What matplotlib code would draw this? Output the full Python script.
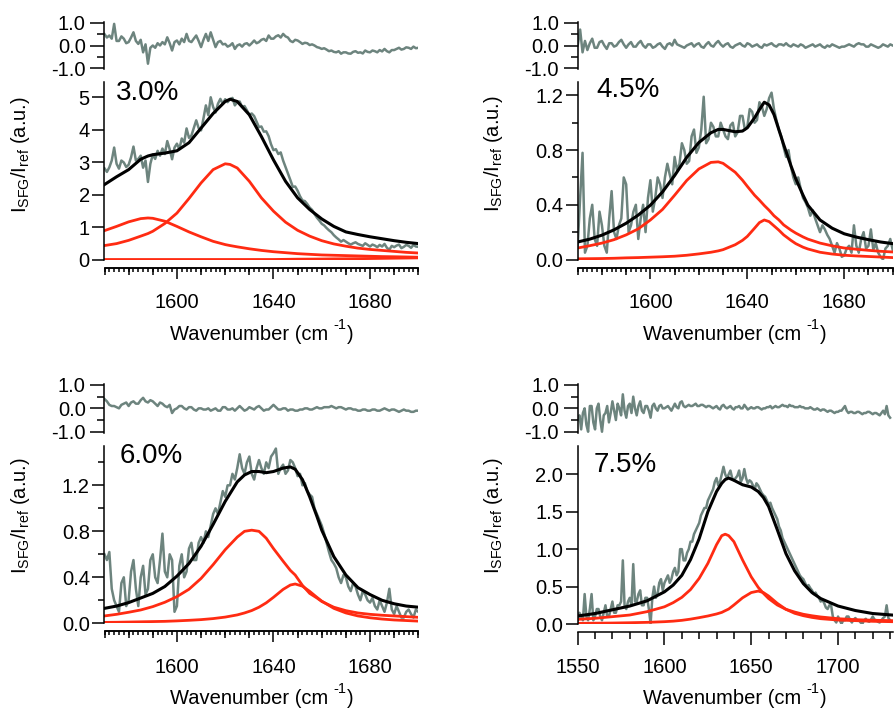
import numpy as np
import matplotlib
matplotlib.use("Agg")
import matplotlib.pyplot as plt
from matplotlib.ticker import MultipleLocator, NullLocator, FormatStrFormatter, FixedLocator

plt.rcParams['font.family'] = ['Liberation Sans', 'DejaVu Sans']
plt.rcParams['mathtext.fontset'] = 'custom'
plt.rcParams['mathtext.rm'] = 'Liberation Sans'
plt.rcParams['mathtext.it'] = 'Liberation Sans:italic'
plt.rcParams['axes.unicode_minus'] = False
plt.rcParams['axes.linewidth'] = 1.1

GRAY = '#6d847e'
RED = '#ff2b12'
BLACK = '#000000'

# ---------------- 3.0 % ----------------
p30_label = '3.0%'
p30_grid = np.arange(1570, 1701, 1)
p30_data = [2.81, 2.70, 2.84, 3.05, 3.45, 2.95, 2.80, 3.05, 2.99, 2.85,
            2.92, 3.15, 3.48, 3.05, 3.10, 3.20, 2.83, 3.05, 2.39, 2.95,
            3.23, 3.10, 3.35, 3.20, 3.42, 3.25, 3.65, 3.40, 3.09, 3.45,
            3.57, 3.40, 3.73, 3.60, 4.04, 3.75, 3.82, 4.05, 4.29, 4.05,
            3.98, 4.35, 4.75, 4.45, 5.00, 4.70, 4.53, 4.80, 4.95, 4.80,
            4.94, 4.85, 4.94, 4.98, 4.75, 4.85, 4.87, 4.70, 4.73, 4.60,
            4.46, 4.50, 4.42, 4.25, 4.08, 4.10, 3.94, 3.95, 3.80, 3.55,
            3.37, 3.40, 3.25, 3.30, 3.05, 2.85, 2.65, 2.45, 2.24, 2.25,
            2.12, 1.95, 1.82, 1.80, 1.71, 1.60, 1.53, 1.40, 1.29, 1.20,
            1.10, 1.05, 0.97, 0.90, 0.84, 0.75, 0.68, 0.62, 0.55, 0.60,
            0.55, 0.50, 0.46, 0.50, 0.53, 0.48, 0.45, 0.42, 0.50, 0.45,
            0.40, 0.46, 0.43, 0.38, 0.45, 0.40, 0.48, 0.36, 0.30, 0.42,
            0.38, 0.43, 0.46, 0.35, 0.39, 0.45, 0.42, 0.36, 0.45, 0.40,
            0.39]
p30_resid = [0.50, 0.35, 0.44, 0.30, 0.95, 0.20, 0.20, 0.40, 0.30, 0.10,
             0.15, 0.35, 0.58, 0.20, 0.07, 0.25, -0.30, 0.05, -0.80, -0.10,
             0.00, -0.10, 0.10, 0.00, 0.15, 0.05, 0.36, 0.10, -0.22, 0.15,
             0.22, 0.05, 0.30, 0.15, 0.51, 0.20, 0.15, 0.30, 0.44, 0.20,
             -0.07, 0.25, 0.51, 0.20, 0.58, 0.25, -0.07, 0.15, 0.20, 0.05,
             0.07, -0.05, 0.00, 0.10, -0.15, 0.00, 0.05, -0.05, 0.07, 0.10,
             0.00, 0.10, 0.22, 0.10, 0.15, 0.25, 0.29, 0.20, 0.44, 0.30,
             0.30, 0.40, 0.45, 0.35, 0.51, 0.40, 0.35, 0.20, 0.15, 0.25,
             0.22, 0.15, 0.07, 0.12, 0.10, 0.02, 0.05, 0.00, -0.07, -0.10,
             -0.15, -0.12, -0.18, -0.25, -0.22, -0.28, -0.30, -0.25, -0.36, -0.30,
             -0.30, -0.35, -0.36, -0.28, -0.25, -0.32, -0.30, -0.35, -0.22, -0.28,
             -0.30, -0.22, -0.25, -0.30, -0.20, -0.26, -0.15, -0.25, -0.30, -0.20,
             -0.20, -0.15, -0.10, -0.18, -0.15, -0.08, -0.10, -0.15, -0.05, -0.12,
             -0.10]
p30_fit_x = [1570, 1575, 1580, 1585, 1588, 1590, 1595, 1600, 1605, 1610, 1615, 1620, 1622,
             1625, 1630, 1635, 1640, 1645, 1650, 1655, 1660, 1665, 1670, 1675, 1680, 1685,
             1690, 1695, 1700]
p30_fit = [2.31, 2.55, 2.77, 3.09, 3.19, 3.23, 3.28, 3.35, 3.60, 4.05, 4.50, 4.87, 4.94,
           4.87, 4.46, 3.79, 3.07, 2.41, 1.90, 1.54, 1.25, 1.02, 0.85, 0.77, 0.70, 0.64,
           0.58, 0.53, 0.49]
p30_peak1 = [0.89, 1.02, 1.16, 1.26, 1.28, 1.27, 1.18, 1.02, 0.85, 0.70, 0.56, 0.46, 0.43,
             0.39, 0.33, 0.28, 0.24, 0.21, 0.18, 0.16, 0.14, 0.13, 0.12, 0.11, 0.10, 0.09,
             0.085, 0.078, 0.07]
p30_peak2 = [0.43, 0.49, 0.59, 0.72, 0.80, 0.87, 1.11, 1.43, 1.88, 2.36, 2.77, 2.95, 2.93,
             2.82, 2.41, 1.90, 1.49, 1.15, 0.90, 0.72, 0.58, 0.48, 0.41, 0.35, 0.31, 0.28,
             0.25, 0.22, 0.20]
p30_peak3 = [0.0, 0.0, 0.0, 0.0, 0.0, 0.0, 0.0, 0.0, 0.0, 0.0, 0.0, 0.0, 0.0,
             0.0, 0.0, 0.0, 0.0, 0.005, 0.01, 0.012, 0.015, 0.02, 0.022, 0.025, 0.03, 0.035,
             0.04, 0.045, 0.05]

# ---------------- 4.5 % ----------------
p45_label = '4.5%'
p45_grid = np.arange(1570, 1701, 1)
p45_data = [0.10, 0.45, 0.78, 0.05, 0.10, 0.30, 0.40, 0.15, 0.10, 0.35,
            0.25, 0.10, 0.05, 0.30, 0.50, 0.20, 0.15, 0.25, 0.30, 0.60,
            0.55, 0.20, 0.25, 0.35, 0.40, 0.15, 0.30, 0.40, 0.20, 0.45,
            0.58, 0.35, 0.45, 0.60, 0.55, 0.45, 0.60, 0.70, 0.62, 0.55,
            0.75, 0.65, 0.70, 0.85, 0.80, 0.70, 0.72, 0.90, 0.95, 0.78,
            0.82, 0.95, 1.19, 0.85, 0.88, 1.00, 0.97, 0.90, 0.90, 1.00,
            0.95, 0.90, 0.88, 0.98, 1.00, 0.90, 0.93, 1.05, 1.05, 0.95,
            0.97, 1.10, 1.08, 1.00, 1.02, 1.15, 1.12, 1.05, 1.10, 1.18,
            1.22, 1.10, 1.02, 0.95, 0.90, 0.82, 0.75, 0.80, 0.68, 0.60,
            0.55, 0.60, 0.52, 0.45, 0.42, 0.38, 0.32, 0.36, 0.30, 0.25,
            0.20, 0.25, 0.22, 0.18, 0.15, 0.10, 0.05, 0.12, 0.08, 0.02,
            0.03, 0.08, 0.10, 0.05, 0.25, 0.10, 0.05, 0.15, 0.20, 0.08,
            0.10, 0.22, 0.07, 0.12, 0.05, 0.02, 0.00, 0.08, 0.10, 0.15,
            0.07]
p45_resid = [0.00, 0.70, -0.30, 0.20, -0.20, 0.10, 0.30, -0.10, -0.10, 0.15,
             0.20, 0.00, -0.15, 0.10, 0.10, -0.05, 0.00, 0.15, 0.25, 0.05,
             -0.10, 0.05, 0.15, -0.05, -0.05, 0.10, 0.20, 0.00, -0.10, 0.05,
             0.05, -0.10, -0.05, 0.05, 0.10, -0.05, -0.15, 0.05, 0.10, 0.00,
             0.25, 0.05, 0.00, -0.05, -0.10, 0.00, 0.05, 0.10, -0.05, 0.05,
             0.10, -0.05, -0.10, 0.05, 0.15, 0.00, -0.05, 0.10, 0.20, 0.05,
             -0.05, 0.05, 0.10, -0.05, -0.10, 0.00, 0.05, 0.10, 0.00, -0.05,
             0.10, 0.05, -0.05, 0.00, 0.05, -0.05, -0.10, 0.05, 0.00, 0.05,
             0.10, 0.00, -0.05, 0.05, 0.05, 0.00, 0.10, 0.00, -0.05, 0.05,
             0.00, -0.05, 0.05, 0.00, -0.10, -0.05, 0.00, 0.05, -0.05, 0.00,
             0.05, -0.05, -0.10, 0.00, -0.05, 0.05, 0.00, -0.05, -0.10, -0.05,
             -0.05, 0.00, 0.05, 0.00, -0.05, 0.05, 0.10, 0.05, 0.05, -0.05,
             -0.05, 0.05, 0.00, -0.05, -0.10, -0.05, 0.05, 0.00, -0.05, 0.05,
             0.00]
p45_fit_x = [1570, 1575, 1580, 1585, 1590, 1595, 1600, 1605, 1610, 1615, 1620, 1625, 1628,
             1630, 1635, 1638, 1640, 1643, 1645, 1647, 1649, 1651, 1653, 1655, 1658, 1660,
             1663, 1665, 1670, 1675, 1680, 1685, 1690, 1695, 1700]
p45_fit = [0.128, 0.149, 0.178, 0.217, 0.265, 0.325, 0.397, 0.494, 0.614, 0.747, 0.855,
           0.927, 0.951, 0.951, 0.934, 0.939, 0.963, 1.036, 1.096, 1.15, 1.13, 1.06, 0.95,
           0.84, 0.686, 0.59, 0.47, 0.397, 0.289, 0.229, 0.188, 0.164, 0.145, 0.128, 0.116]
p45_peak1 = [0.084, 0.101, 0.12, 0.145, 0.18, 0.224, 0.289, 0.366, 0.47, 0.578, 0.662,
             0.71, 0.714, 0.703, 0.638, 0.58, 0.535, 0.47, 0.434, 0.395, 0.36, 0.32, 0.29,
             0.253, 0.215, 0.193, 0.165, 0.149, 0.12, 0.10, 0.084, 0.075, 0.067, 0.06, 0.055]
p45_peak2 = [0.005, 0.006, 0.007, 0.009, 0.012, 0.014, 0.017, 0.02, 0.024, 0.031, 0.041,
             0.053, 0.063, 0.072, 0.108, 0.14, 0.169, 0.229, 0.27, 0.289, 0.277, 0.246, 0.215,
             0.18, 0.14, 0.116, 0.09, 0.077, 0.053, 0.04, 0.031, 0.026, 0.022, 0.018, 0.014]

# ---------------- 6.0 % ----------------
p60_label = '6.0%'
p60_grid = np.arange(1570, 1701, 1)
p60_data = [0.60, 0.55, 0.62, 0.30, 0.20, 0.15, 0.10, 0.35, 0.40, 0.15,
            0.20, 0.45, 0.55, 0.30, 0.15, 0.40, 0.50, 0.25, 0.30, 0.55,
            0.60, 0.40, 0.35, 0.55, 0.78, 0.45, 0.40, 0.60, 0.55, 0.10,
            0.15, 0.50, 0.60, 0.40, 0.45, 0.65, 0.70, 0.55, 0.55, 0.70,
            0.75, 0.70, 0.80, 0.75, 0.85, 0.95, 1.00, 0.95, 1.05, 1.15,
            1.10, 1.20, 1.20, 1.30, 1.25, 1.35, 1.47, 1.35, 1.30, 1.40,
            1.45, 1.30, 1.25, 1.35, 1.42, 1.35, 1.30, 1.40, 1.35, 1.45,
            1.48, 1.52, 1.30, 1.35, 1.38, 1.30, 1.33, 1.42, 1.40, 1.35,
            1.28, 1.30, 1.20, 1.22, 1.15, 1.12, 1.10, 1.00, 0.95, 0.90,
            0.85, 0.78, 0.70, 0.62, 0.55, 0.52, 0.48, 0.40, 0.35, 0.42,
            0.40, 0.32, 0.28, 0.35, 0.32, 0.25, 0.20, 0.28, 0.25, 0.20,
            0.18, 0.22, 0.15, 0.12, 0.20, 0.15, 0.10, 0.18, 0.30, 0.12,
            0.08, 0.15, 0.10, 0.05, 0.05, 0.10, 0.12, 0.08, 0.05, 0.12,
            0.10]
p60_resid = [0.40, 0.30, 0.15, 0.10, 0.10, 0.05, 0.00, 0.15, 0.20, 0.25,
             0.10, 0.25, 0.30, 0.20, 0.20, 0.35, 0.45, 0.30, 0.25, 0.35,
             0.30, 0.20, 0.10, 0.25, 0.20, 0.10, 0.05, 0.15, -0.20, -0.05,
             0.00, 0.10, 0.10, 0.00, -0.05, 0.05, 0.05, -0.05, -0.10, 0.00,
             0.00, -0.05, -0.05, 0.00, -0.10, -0.05, 0.00, -0.10, -0.10, 0.05,
             0.05, -0.05, -0.05, 0.00, -0.10, 0.00, 0.10, 0.00, -0.10, -0.05,
             0.05, 0.00, -0.05, 0.05, 0.10, 0.00, -0.10, -0.05, -0.05, 0.05,
             0.15, 0.05, -0.05, -0.05, 0.00, 0.00, -0.10, -0.05, -0.05, -0.10,
             -0.10, -0.05, -0.05, 0.00, 0.00, -0.05, -0.05, 0.00, 0.05, 0.00,
             0.00, 0.05, 0.05, 0.05, 0.10, 0.05, 0.00, 0.05, 0.05, 0.00,
             -0.05, 0.00, 0.00, -0.05, -0.05, -0.10, -0.10, -0.05, -0.05, -0.10,
             -0.10, -0.05, -0.05, -0.10, -0.10, -0.05, 0.00, -0.05, -0.10, -0.05,
             -0.05, -0.10, -0.15, -0.10, -0.05, -0.10, -0.10, -0.15, -0.15, -0.10,
             -0.10]
p60_fit_x = [1570, 1575, 1580, 1585, 1590, 1595, 1600, 1605, 1610, 1615, 1620, 1625, 1628,
             1631, 1634, 1637, 1640, 1644, 1647, 1649, 1652, 1655, 1658, 1660, 1665, 1670,
             1675, 1680, 1685, 1690, 1695, 1700]
p60_fit = [0.13, 0.15, 0.18, 0.22, 0.26, 0.32, 0.41, 0.52, 0.67, 0.86, 1.06, 1.23, 1.29,
           1.32, 1.32, 1.31, 1.32, 1.35, 1.36, 1.34, 1.25, 1.10, 0.93, 0.81, 0.58, 0.42,
           0.31, 0.25, 0.20, 0.17, 0.15, 0.14]
p60_peak1 = [0.064, 0.078, 0.096, 0.116, 0.145, 0.183, 0.232, 0.296, 0.39, 0.51, 0.64, 0.75,
             0.80, 0.81, 0.80, 0.74, 0.65, 0.54, 0.46, 0.42, 0.33, 0.26, 0.22, 0.19, 0.14,
             0.11, 0.09, 0.078, 0.07, 0.064, 0.058, 0.052]
p60_peak2 = [0.008, 0.009, 0.011, 0.013, 0.015, 0.017, 0.021, 0.026, 0.032, 0.041, 0.054,
             0.073, 0.090, 0.111, 0.140, 0.178, 0.226, 0.295, 0.333, 0.342, 0.323, 0.278,
             0.226, 0.193, 0.130, 0.090, 0.064, 0.048, 0.037, 0.029, 0.024, 0.019]

# ---------------- 7.5 % ----------------
p75_label = '7.5%'
p75_grid = np.arange(1550, 1731, 1)
p75_data = [0.05, 0.15, 0.10, 0.05, 0.40, 0.10, 0.05, 0.20, 0.40, 0.05,
            0.10, 0.20, 0.20, 0.10, 0.05, 0.15, 0.25, 0.10, 0.10, 0.20,
            0.30, 0.15, 0.15, 0.25, 0.25, 0.30, 0.85, 0.25, 0.20, 0.30,
            0.35, 0.25, 0.80, 0.30, 0.30, 0.40, 0.45, 0.25, 0.25, 0.35,
            0.35, 0.20, 0.00, 0.35, 0.50, 0.35, 0.40, 0.55, 0.60, 0.45,
            0.55, 0.60, 0.65, 0.55, 0.60, 0.70, 0.75, 0.65, 0.70, 1.00,
            1.00, 0.85, 0.85, 0.95, 1.00, 1.10, 1.10, 1.20, 1.25, 1.30,
            1.35, 1.45, 1.50, 1.55, 1.55, 1.65, 1.70, 1.75, 1.80, 1.90,
            1.95, 1.85, 1.90, 2.00, 2.10, 2.00, 1.95, 2.00, 2.05, 1.95,
            1.92, 1.95, 1.98, 2.05, 1.90, 1.95, 2.07, 1.95, 1.88, 1.92,
            1.90, 1.85, 1.80, 1.88, 1.85, 1.80, 1.75, 1.72, 1.70, 1.65,
            1.60, 1.62, 1.55, 1.50, 1.45, 1.40, 1.30, 1.25, 1.15, 1.10,
            1.05, 1.00, 0.95, 0.90, 0.85, 0.80, 0.75, 0.70, 0.65, 0.62,
            0.60, 0.55, 0.50, 0.52, 0.48, 0.45, 0.40, 0.42, 0.38, 0.35,
            0.30, 0.32, 0.28, 0.22, 0.20, 0.25, 0.25, 0.10, 0.05, 0.02,
            0.10, 0.05, 0.00, 0.05, 0.05, 0.10, 0.10, 0.05, 0.02, 0.06,
            0.08, 0.05, 0.05, 0.02, 0.00, 0.05, 0.07, 0.04, 0.03, 0.06,
            0.10, 0.06, 0.05, 0.03, 0.02, 0.05, 0.08, 0.10, 0.25, 0.08,
            0.05]
p75_resid = [-0.50, -0.30, -0.90, -0.20, 0.00, -0.70, -1.00, 0.10, 0.10, -0.60,
             -0.90, 0.00, 0.20, -0.50, -1.00, -0.30, -0.20, 0.10, -0.60, -0.20,
             0.30, -0.10, -0.50, 0.20, 0.00, -0.30, 0.60, -0.10, -0.40, 0.10,
             0.20, -0.20, 0.50, 0.00, -0.30, 0.10, 0.30, -0.10, -0.20, 0.10,
             0.10, -0.10, -0.40, 0.10, 0.20, 0.00, -0.10, 0.10, 0.15, 0.00,
             0.00, 0.05, 0.10, 0.00, -0.10, 0.05, 0.20, 0.05, 0.00, 0.25,
             0.30, 0.10, 0.05, 0.10, 0.15, 0.10, 0.10, 0.15, 0.20, 0.10,
             0.10, 0.15, 0.15, 0.10, 0.05, 0.10, 0.10, 0.05, 0.00, 0.05,
             0.10, 0.00, -0.05, 0.10, 0.15, 0.05, 0.00, 0.05, 0.10, 0.00,
             -0.05, 0.05, 0.05, 0.10, 0.00, 0.00, 0.15, 0.05, -0.05, 0.00,
             0.05, 0.00, 0.00, 0.05, 0.05, 0.00, -0.05, 0.00, 0.00, 0.05,
             0.05, 0.10, 0.00, 0.05, 0.10, 0.05, 0.05, 0.10, 0.15, 0.10,
             0.10, 0.05, 0.15, 0.10, 0.10, 0.05, 0.05, 0.05, 0.10, 0.05,
             0.05, 0.00, 0.00, 0.00, 0.05, 0.00, -0.05, -0.05, 0.00, -0.05,
             -0.10, -0.05, -0.05, -0.10, -0.15, -0.10, -0.10, -0.15, -0.20, -0.15,
             -0.15, -0.10, -0.10, 0.00, 0.10, -0.10, -0.20, -0.15, -0.15, -0.20,
             -0.20, -0.15, -0.15, -0.20, -0.25, -0.20, -0.20, -0.15, -0.15, -0.20,
             -0.25, -0.20, -0.20, -0.25, -0.30, -0.20, -0.10, -0.25, 0.10, -0.30,
             -0.40]
p75_fit_x = [1550, 1560, 1570, 1580, 1590, 1600, 1605, 1610, 1615, 1620, 1625, 1630, 1633,
             1635, 1637, 1640, 1645, 1650, 1654, 1657, 1660, 1665, 1670, 1675, 1680, 1685,
             1690, 1700, 1710, 1720, 1731]
p75_fit = [0.107, 0.14, 0.19, 0.24, 0.31, 0.43, 0.52, 0.65, 0.86, 1.14, 1.50, 1.77, 1.88,
           1.93, 1.95, 1.92, 1.86, 1.83, 1.77, 1.69, 1.57, 1.26, 0.94, 0.71, 0.54, 0.42,
           0.34, 0.24, 0.18, 0.14, 0.12]
p75_peak1 = [0.062, 0.076, 0.098, 0.12, 0.165, 0.23, 0.285, 0.356, 0.46, 0.61, 0.81, 1.06,
             1.18, 1.20, 1.18, 1.10, 0.855, 0.63, 0.49, 0.41, 0.34, 0.254, 0.196, 0.16, 0.13,
             0.11, 0.094, 0.071, 0.058, 0.05, 0.045]
p75_peak2 = [0.009, 0.011, 0.013, 0.017, 0.022, 0.031, 0.038, 0.049, 0.065, 0.085, 0.107,
             0.134, 0.155, 0.178, 0.20, 0.254, 0.35, 0.42, 0.44, 0.42, 0.374, 0.276, 0.196,
             0.143, 0.111, 0.088, 0.071, 0.053, 0.045, 0.036, 0.031]

W, H = 895, 709
fig = plt.figure(figsize=(W / 100, H / 100), dpi=100)
renderer = fig.canvas.get_renderer()

TICK_FS = 14.5
LABEL_FS = 14.5


def rect(l, r, top, bottom):
    return [l / W, 1 - bottom / H, (r - l) / W, (bottom - top) / H]


def ftext(x, y, s, **kw):
    return fig.text(x / W, 1 - y / H, s, **kw)


def xlabel(cx, base):
    t1 = ftext(0, base, 'Wavenumber (cm', fontsize=LABEL_FS, ha='left', va='baseline')
    t2 = ftext(0, base - 11, '-1', fontsize=10.5, ha='left', va='baseline')
    t3 = ftext(0, base, ')', fontsize=LABEL_FS, ha='left', va='baseline')
    w1 = t1.get_window_extent(renderer).width
    w2 = t2.get_window_extent(renderer).width
    w3 = t3.get_window_extent(renderer).width
    gap1, gap2 = 5, 1
    x0 = cx - (w1 + gap1 + w2 + gap2 + w3) / 2
    t1.set_x(x0 / W)
    t2.set_x((x0 + w1 + gap1) / W)
    t3.set_x((x0 + w1 + gap1 + w2 + gap2) / W)


panels = [
    dict(label=p30_label, grid=p30_grid, data=p30_data, resid=p30_resid, fx=p30_fit_x,
         fit=p30_fit, peaks=[p30_peak1, p30_peak2, p30_peak3],
         lr=(104.5, 418.3), main_tb=(81.7, 259.5), res_tb=(21.6, 69.4),
         xlim=(1570, 1700), ylim=(0, 5.48), ymaj=1, ymin=None, yfmt='%d',
         xmaj=40, xmed=10, xminor=2, xmaj_len=8.0, xpad=10,
         lab=(116.0, 100.0), ylab=(21, 155), xlab=(261.7, 340)),
    dict(label=p45_label, grid=p45_grid, data=p45_data, resid=p45_resid, fx=p45_fit_x,
         fit=p45_fit, peaks=[p45_peak1, p45_peak2],
         lr=(577.7, 892.7), main_tb=(81.7, 259.5), res_tb=(21.6, 69.4),
         xlim=(1570, 1700), ylim=(0, 1.30), ymaj=0.4, ymin=0.2, yfmt='%.1f',
         xmaj=40, xmed=10, xminor=2, xmaj_len=8.0, xpad=10,
         lab=(596.0, 96.7), ylab=(494, 154), xlab=(735, 340)),
    dict(label=p60_label, grid=p60_grid, data=p60_data, resid=p60_resid, fx=p60_fit_x,
         fit=p60_fit, peaks=[p60_peak1, p60_peak2],
         lr=(104.5, 418.3), main_tb=(446.0, 623.3), res_tb=(383.8, 432.9),
         xlim=(1570, 1700), ylim=(0, 1.542), ymaj=0.4, ymin=0.2, yfmt='%.1f',
         xmaj=40, xmed=10, xminor=2, xmaj_len=8.0, xpad=11,
         lab=(120.0, 463.3), ylab=(21, 515.8), xlab=(261.7, 704)),
    dict(label=p75_label, grid=p75_grid, data=p75_data, resid=p75_resid, fx=p75_fit_x,
         fit=p75_fit, peaks=[p75_peak1, p75_peak2],
         lr=(577.7, 892.7), main_tb=(446.0, 624.0), res_tb=(383.8, 432.9),
         xlim=(1550, 1731.5), ylim=(0, 2.378), ymaj=0.5, ymin=None, yfmt='%.1f',
         xmaj=50, xmed=None, xminor=10, xmaj_len=9.4, xpad=9,
         lab=(593.5, 471.7), ylab=(494, 515.8), xlab=(735, 704)),
]

OFF = 5.8  # points, offset of detached x axis

for p in panels:
    l, r = p['lr']
    ax = fig.add_axes(rect(l, r, *p['main_tb']))
    axr = fig.add_axes(rect(l, r, *p['res_tb']))

    # main plot
    ax.plot(p['grid'], p['data'], color=GRAY, lw=1.8, zorder=1, solid_joinstyle='round')
    for pk in p['peaks']:
        ax.plot(p['fx'], pk, color=RED, lw=2.0, zorder=2, solid_joinstyle='round')
    ax.plot(p['fx'], p['fit'], color=BLACK, lw=2.2, zorder=3, solid_joinstyle='round')
    ax.set_xlim(*p['xlim'])
    ax.set_ylim(*p['ylim'])
    for s in ('top', 'right'):
        ax.spines[s].set_visible(False)
    ax.spines['bottom'].set_position(('outward', OFF))
    ax.yaxis.set_major_locator(MultipleLocator(p['ymaj']))
    ax.yaxis.set_major_formatter(FormatStrFormatter(p['yfmt']))
    if p['ymin']:
        ax.yaxis.set_minor_locator(MultipleLocator(p['ymin']))
    else:
        ax.yaxis.set_minor_locator(NullLocator())
    ax.tick_params(axis='y', which='major', direction='out', length=8.6, width=1.1,
                   pad=2, labelsize=TICK_FS)
    ax.tick_params(axis='y', which='minor', direction='out', length=4.3, width=1.1)
    ax.xaxis.set_major_locator(MultipleLocator(p['xmaj']))
    ax.xaxis.set_minor_locator(MultipleLocator(p['xminor']))
    ax.tick_params(axis='x', which='major', direction='out', length=p['xmaj_len'], width=1.1,
                   pad=p['xpad'], labelsize=TICK_FS)
    minor_len = 3.2 if p['xmed'] else 4.8
    ax.tick_params(axis='x', which='minor', direction='out', length=minor_len, width=1.1)
    if p['xmed']:
        sec = ax.secondary_xaxis('bottom')
        med = [v for v in np.arange(p['xlim'][0], p['xlim'][1] + 0.1, p['xmed'])
               if v % p['xmaj'] != 0]
        sec.set_ticks(med)
        sec.xaxis.set_minor_locator(NullLocator())
        sec.tick_params(axis='x', which='major', direction='out', length=4.9, width=1.1,
                        labelbottom=False)
        sec.spines['bottom'].set_position(('outward', OFF))

    # residual
    axr.plot(p['grid'], p['resid'], color=GRAY, lw=1.8, solid_joinstyle='round')
    axr.set_xlim(*p['xlim'])
    axr.set_ylim(-1.05, 1.05)
    for s in ('top', 'right', 'bottom'):
        axr.spines[s].set_visible(False)
    axr.xaxis.set_visible(False)
    axr.yaxis.set_major_locator(FixedLocator([-1.0, 0.0, 1.0]))
    axr.yaxis.set_major_formatter(FormatStrFormatter('%.1f'))
    axr.yaxis.set_minor_locator(FixedLocator([-0.5, 0.5]))
    axr.tick_params(axis='y', which='major', direction='out', length=10, width=1.1,
                    pad=3.5, labelsize=TICK_FS)
    axr.tick_params(axis='y', which='minor', direction='out', length=5, width=1.1)
    axr.patch.set_alpha(0)

    # texts
    ftext(p['lab'][0], p['lab'][1], p['label'], fontsize=20, ha='left', va='baseline')
    ftext(p['ylab'][0], p['ylab'][1], r'I$_{\mathregular{SFG}}$/I$_{\mathregular{ref}}$ (a.u.)',
          fontsize=LABEL_FS, rotation=90, ha='center', va='center')
    xlabel(p['xlab'][0], p['xlab'][1])

fig.savefig('out.png', dpi=100)
